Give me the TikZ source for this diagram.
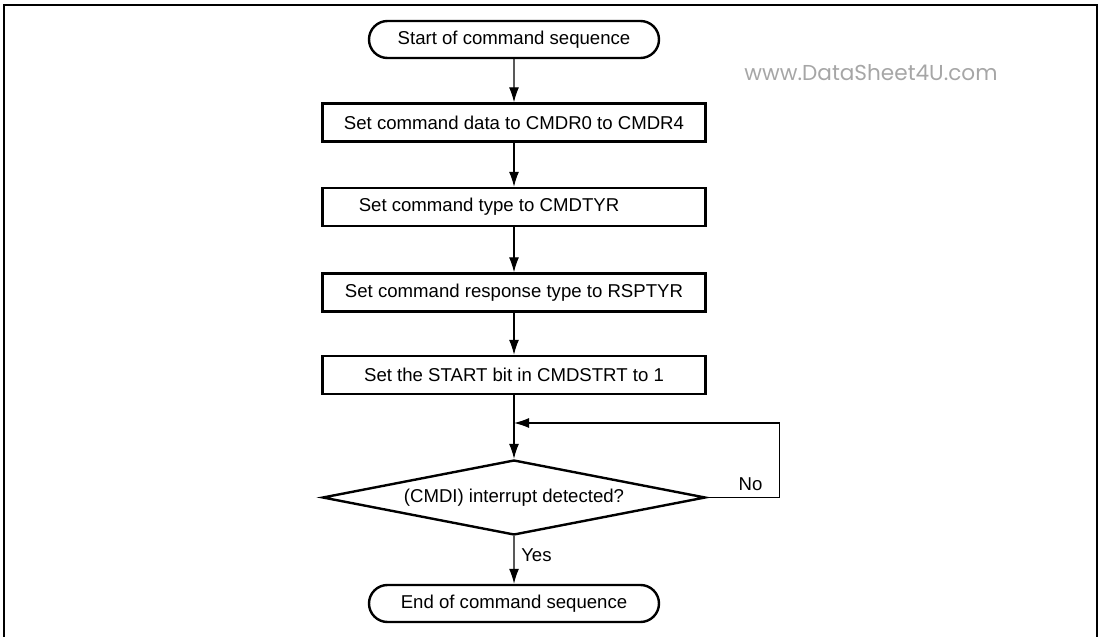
\documentclass[tikz,border=0pt]{standalone}
\usepackage{fontspec}
\setmainfont{Liberation Sans}
\newfontfamily\wmfont{Poppins}
\usetikzlibrary{shapes.misc,shapes.geometric,arrows.meta}
\begin{document}
\begin{tikzpicture}[x=0.5pt,y=-0.5pt,
    term/.style={draw,line width=1.2pt,rounded rectangle,minimum width=145pt,
      minimum height=18.5pt,inner sep=0pt},
    proc/.style={draw,line width=1.2pt,minimum width=191.5pt,minimum height=19pt,
      inner sep=0pt},
    dec/.style={draw,line width=1.2pt,diamond,aspect=5,minimum width=191.5pt,
      minimum height=37.5pt,inner sep=0pt},
    flow/.style={line width=0.6pt,-{Latex[length=7.5pt,width=5pt]}},
    every node/.style={font=\fontsize{9.3}{11}\selectfont}]
  \useasboundingbox (0,0) rectangle (1100,637);
  % page frame, open at the bottom
  \draw[line width=1.3pt] (4,637) -- (4,5) -- (1097,5) -- (1097,637);
  \node[font=\wmfont\fontsize{10.8}{12}\selectfont,text=black!35,inner sep=0pt]
    (wm) at (871,72.5) {www.DataSheet4U.com};
  % the sequence
  \node[term] (start) at (514,39.5) {Start of command sequence};
  \foreach \n/\y/\txt in {1/122.5/{Set command data to CMDR0 to CMDR4},
      2/207/{\hspace*{-25pt}Set command type to CMDTYR},
      3/292.5/{Set command response type to RSPTYR},
      4/375/{Set the START bit in CMDSTRT to 1}}{
    \node[proc] (b\n) at (514,\y) {\txt};
  }
  \node[dec] (chk) at (514,497.5) {(CMDI) interrupt detected?};
  \node[term] (stop) at (514,603.5) {End of command sequence};
  \coordinate (join) at (514,423);
  \foreach \a/\b in {start/b1,b1/b2,b2/b3,b3/b4}
    \draw[flow] (\a) -- (\b);
  \draw[line width=0.6pt] (b4) -- (join);
  \draw[flow] (join) -- (chk);
  % wait loop
  \draw[flow] (chk.east) -- node[above,pos=0.6] {No} ++(73,0) |- (join);
  \draw[flow] (chk) -- node[right,pos=0.4] {Yes} (stop);
\end{tikzpicture}
\end{document}
